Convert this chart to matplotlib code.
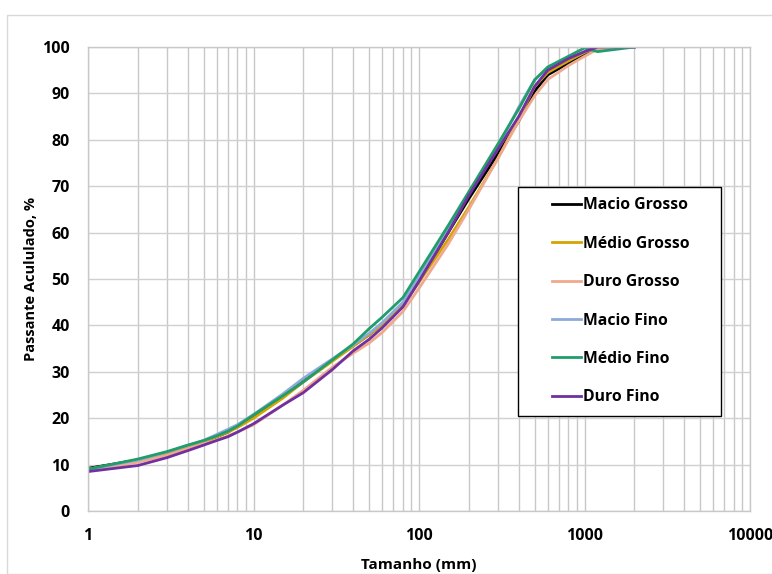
import matplotlib
matplotlib.use("Agg")
import matplotlib.pyplot as plt
from matplotlib.patches import Rectangle
from matplotlib.lines import Line2D
from matplotlib.legend_handler import HandlerLine2D
from matplotlib.ticker import LogLocator, FixedLocator, NullFormatter

plt.rcParams['font.family'] = ['Open Sans', 'DejaVu Sans']

sizes = [1, 2, 3, 4, 5, 6, 7, 8, 10, 15, 20, 30, 40, 50, 60, 80, 100, 150, 200, 300, 400, 500, 600, 800, 1000, 1200, 2000]

macio_grosso = [9.2, 11.0, 12.6, 14.0, 15.0, 16.0, 17.0, 18.2, 20.3, 24.5, 28.0, 32.5, 35.6, 38.0, 40.3, 44.5, 49.5, 60.0, 67.3, 77.0, 84.0, 90.5, 94.0, 96.5, 98.5, 100.0, 100.0]
medio_grosso = [9.0, 10.9, 12.5, 13.9, 15.0, 16.0, 17.0, 18.0, 20.0, 24.3, 27.8, 32.3, 35.5, 38.0, 40.2, 44.3, 49.3, 58.5, 65.5, 76.0, 84.5, 91.5, 94.5, 97.0, 98.8, 100.0, 100.0]
duro_grosso = [8.7, 10.5, 12.0, 13.4, 14.5, 15.3, 16.2, 17.0, 18.6, 22.8, 26.0, 31.0, 34.0, 36.2, 38.5, 43.0, 48.0, 57.5, 65.0, 76.0, 84.0, 89.5, 93.0, 96.0, 98.0, 99.5, 100.0]
macio_fino = [9.0, 11.0, 12.7, 14.1, 15.2, 16.5, 17.6, 18.6, 20.8, 25.2, 28.6, 32.8, 35.8, 38.3, 40.6, 45.0, 50.5, 61.0, 68.5, 78.5, 87.0, 93.0, 95.5, 97.5, 99.0, 100.0, 100.0]
medio_fino = [9.0, 11.2, 12.8, 14.2, 15.2, 16.2, 17.2, 18.3, 20.7, 24.8, 27.8, 32.6, 36.0, 39.3, 41.8, 46.0, 51.5, 61.5, 68.8, 79.1, 86.6, 92.9, 95.7, 98.0, 99.8, 99.0, 100.0]
duro_fino = [8.5, 9.8, 11.5, 13.0, 14.2, 15.2, 16.0, 17.0, 18.8, 22.8, 25.5, 30.5, 34.5, 37.0, 39.5, 44.0, 49.5, 60.0, 68.0, 78.0, 85.0, 91.5, 95.0, 97.5, 99.0, 100.0, 100.0]

names = ["Macio Grosso", "Médio Grosso", "Duro Grosso", "Macio Fino", "Médio Fino", "Duro Fino"]
series = [macio_grosso, medio_grosso, duro_grosso, macio_fino, medio_fino, duro_fino]
colors = ["#000000", "#d4a500", "#f0a98c", "#8ea9db", "#1f9e6b", "#7030a0"]

yticks = [0, 10, 20, 30, 40, 50, 60, 70, 80, 90, 100]
xticks = [1, 10, 100, 1000, 10000]
xticklabels = ["1", "10", "100", "1000", "10000"]


class RightLineHandler(HandlerLine2D):
    def create_artists(self, legend, orig_handle, xdescent, ydescent, width,
                       height, fontsize, trans):
        y = height / 2.0 - ydescent
        x0 = width - 31 * 72 / 100.0
        line = Line2D([x0, width - 1.5], [y, y], color=orig_handle.get_color(), lw=2.0)
        line.set_transform(trans)
        return [line]


fig = plt.figure(figsize=(7.72, 5.74), dpi=100)
fig.patches.append(Rectangle((7/772, 0), 1.1, 1 - 15/574, transform=fig.transFigure,
                             fill=False, edgecolor="#d9d9d9", linewidth=1.0))
ax = fig.add_axes([88/772, 1 - 511/574, (750 - 88)/772, (511 - 47)/574])

handles = []
for vals, name, c in zip(series, names, colors):
    h, = ax.plot(sizes, vals, color=c, lw=2.0, label=name, solid_joinstyle="round")
    handles.append(h)

ax.set_xscale("log")
ax.set_xlim(1, 10000)
ax.set_ylim(0, 100)
ax.xaxis.set_major_locator(FixedLocator(xticks))
ax.set_xticklabels(xticklabels)
ax.xaxis.set_minor_locator(LogLocator(base=10, subs=range(2, 10), numticks=20))
ax.xaxis.set_minor_formatter(NullFormatter())
ax.set_yticks(yticks)
ax.grid(True, which="both", axis="x", color="#c8c8c8", lw=1.0)
ax.grid(True, which="major", axis="y", color="#d0d0d0", lw=1.0)
ax.set_axisbelow(True)
ax.tick_params(axis="y", which="both", length=0, pad=13)
ax.tick_params(axis="x", which="both", length=0, pad=12)
for lab in ax.get_xticklabels() + ax.get_yticklabels():
    lab.set_fontweight("bold")
    lab.set_fontsize(11.5)
for s in ax.spines.values():
    s.set_color("#c8c8c8")
    s.set_linewidth(1.0)

ax.set_xlabel("Tamanho (mm)", fontsize=11, fontweight="bold", labelpad=10)
ax.set_ylabel("Passante Acululado, %", fontsize=10.5, fontweight="bold", labelpad=3)

leg_x0 = (518 - 88) / 662
leg_y0 = 1 - (417 - 47) / 464
leg_w = (721 - 518) / 662
leg_h = (417 - 187) / 464
leg = ax.legend(handles=handles, labels=names,
                handler_map={Line2D: RightLineHandler()},
                loc="upper left", bbox_to_anchor=(leg_x0, leg_y0, leg_w, leg_h),
                mode="expand",
                frameon=True, fancybox=False, edgecolor="#000000", framealpha=1,
                prop={"weight": "bold", "size": 11.3}, handlelength=3.5, handletextpad=0.0,
                labelspacing=1.43, borderpad=0.65, borderaxespad=0.0)
leg.get_frame().set_linewidth(1.0)

fig.savefig("out.png", dpi=100)
